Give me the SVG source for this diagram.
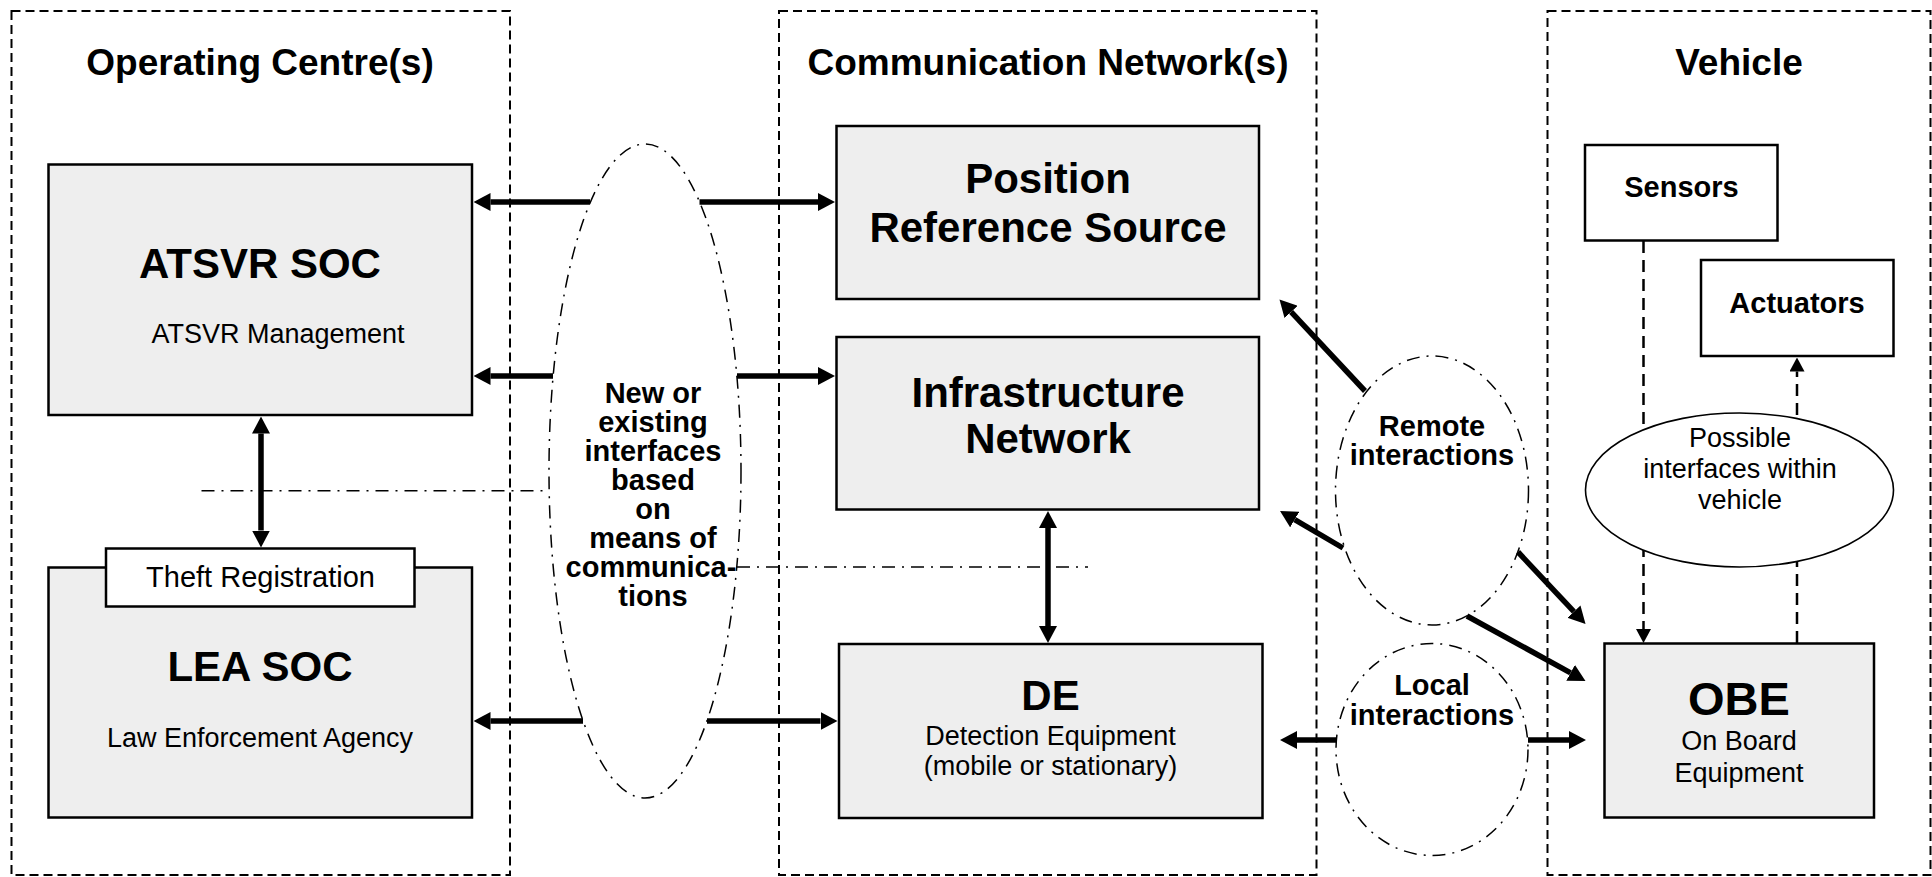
<svg xmlns="http://www.w3.org/2000/svg" width="1932" height="877" viewBox="0 0 1932 877">
  <style>
    .zone { fill: none; stroke: #000; stroke-width: 2; stroke-dasharray: 9 5; }
    .box { fill: #eeeeee; stroke: #000; stroke-width: 2.5; }
    .wbox { fill: #ffffff; stroke: #000; stroke-width: 2.5; }
    .dd { fill: none; stroke: #000; stroke-width: 1.5; stroke-dasharray: 13 7 2 7; }
    .cloud { fill: #ffffff; stroke: #000; stroke-width: 1.5; stroke-dasharray: 13 7 2 7; }
    .solid-ell { fill: #ffffff; stroke: #000; stroke-width: 1.6; }
    .arr { fill: none; stroke: #000; stroke-width: 5.5; marker-end: url(#ah); }
    .arr2 { fill: none; stroke: #000; stroke-width: 5.5; marker-start: url(#ah); marker-end: url(#ah); }
    .darr { fill: none; stroke: #000; stroke-width: 2.5; stroke-dasharray: 12 7; marker-end: url(#ahs); }
    text { font-family: "Liberation Sans", Arial, sans-serif; fill: #000; text-anchor: middle; }
    .h { font-size: 37px; font-weight: bold; }
    .t { font-size: 42px; font-weight: bold; }
    .obe { font-size: 47px; font-weight: bold; }
    .b { font-size: 29px; font-weight: bold; }
    .r { font-size: 27px; }
    .tag { font-size: 29px; }
  </style>
  <defs>
    <marker id="ah" markerUnits="userSpaceOnUse" viewBox="0 0 17 18" markerWidth="17" markerHeight="18" refX="0" refY="9" orient="auto-start-reverse">
      <path d="M0,0 L17,9 L0,18 z" fill="#000"/>
    </marker>
    <marker id="ahs" markerUnits="userSpaceOnUse" viewBox="0 0 14 15" markerWidth="14" markerHeight="15" refX="0" refY="7.5" orient="auto">
      <path d="M0,0 L14,7.5 L0,15 z" fill="#000"/>
    </marker>
  </defs>

  <!-- domain frames -->
  <g id="zones">
    <rect class="zone" x="11.5" y="11" width="498.5" height="864"/>
    <rect class="zone" x="779" y="11" width="537.5" height="864"/>
    <rect class="zone" x="1547.5" y="11" width="383" height="864"/>
    <text class="h" x="260" y="75">Operating Centre(s)</text>
    <text class="h" x="1048" y="75">Communication Network(s)</text>
    <text class="h" x="1739" y="75">Vehicle</text>
  </g>

  <!-- boundary lines between domains -->
  <g id="boundaries">
    <path class="dd" d="M201.5,490.7 H548.5"/>
    <path class="dd" d="M737,567 H1088"/>
  </g>

  <!-- interface clouds -->
  <g id="interfaces-cloud">
    <ellipse class="cloud" cx="645" cy="471" rx="96" ry="327"/>
    <text class="b" x="653" y="403">New or</text>
    <text class="b" x="653" y="432">existing</text>
    <text class="b" x="653" y="461">interfaces</text>
    <text class="b" x="653" y="490">based</text>
    <text class="b" x="653" y="519">on</text>
    <text class="b" x="653" y="548">means of</text>
    <text class="b" x="651" y="577">communica-</text>
    <text class="b" x="653" y="606">tions</text>
  </g>
  <g id="remote-cloud">
    <ellipse class="cloud" cx="1432" cy="490.5" rx="96.5" ry="134.5"/>
    <text class="b" x="1432" y="436">Remote</text>
    <text class="b" x="1432" y="465">interactions</text>
  </g>
  <g id="local-cloud">
    <ellipse class="cloud" cx="1432" cy="749.5" rx="96" ry="106"/>
    <text class="b" x="1432" y="695">Local</text>
    <text class="b" x="1432" y="725">interactions</text>
  </g>

  <!-- connectors -->
  <g id="connectors">
    <path class="arr" d="M590,202 H490.5"/>
    <path class="arr" d="M699.5,202 H818"/>
    <path class="arr" d="M553,376 H490.5"/>
    <path class="arr" d="M737,376 H818"/>
    <path class="arr" d="M583,721 H490.5"/>
    <path class="arr" d="M707,721 H820.5"/>
    <path class="arr2" d="M261,433.5 V530.5"/>
    <path class="arr2" d="M1048,528 V626"/>
    <path class="arr" d="M1365,391 L1291.1,311.9"/>
    <path class="arr" d="M1343,548 L1294.7,519.6"/>
    <path class="arr" d="M1518,552 L1573.9,611.6"/>
    <path class="arr" d="M1467,616 L1570.6,672.8"/>
    <path class="arr" d="M1336,740 H1297"/>
    <path class="arr" d="M1528,740 H1569"/>
    <path class="darr" d="M1643.5,241 V629"/>
    <path class="darr" d="M1797,643 V371.5"/>
  </g>

  <!-- operating centre nodes -->
  <g id="atsvr-soc">
    <rect class="box" x="48.5" y="164.5" width="423.5" height="250.5"/>
    <text class="t" x="260" y="278">ATSVR SOC</text>
    <text class="r" x="278" y="343">ATSVR Management</text>
  </g>
  <g id="lea-soc">
    <rect class="box" x="48.5" y="567.5" width="423.5" height="250"/>
    <text class="t" x="260" y="681">LEA SOC</text>
    <text class="r" x="260" y="747">Law Enforcement Agency</text>
  </g>
  <g id="theft-registration">
    <rect class="wbox" x="106" y="548.5" width="308.5" height="58"/>
    <text class="tag" x="260.5" y="587">Theft Registration</text>
  </g>

  <!-- communication network nodes -->
  <g id="position-reference">
    <rect class="box" x="836.5" y="126" width="422.5" height="173"/>
    <text class="t" x="1048" y="193">Position</text>
    <text class="t" x="1048" y="242">Reference Source</text>
  </g>
  <g id="infrastructure-network">
    <rect class="box" x="836.5" y="337" width="422.5" height="172.5"/>
    <text class="t" x="1048" y="407">Infrastructure</text>
    <text class="t" x="1048" y="453">Network</text>
  </g>
  <g id="detection-equipment">
    <rect class="box" x="839" y="644" width="423.5" height="174"/>
    <text class="t" x="1050.5" y="710">DE</text>
    <text class="r" x="1050.5" y="745">Detection Equipment</text>
    <text class="r" x="1050.5" y="775">(mobile or stationary)</text>
  </g>

  <!-- vehicle nodes -->
  <g id="sensors">
    <rect class="wbox" x="1585" y="145" width="192.5" height="95.5"/>
    <text class="b" x="1681.5" y="197">Sensors</text>
  </g>
  <g id="actuators">
    <rect class="wbox" x="1701" y="260" width="192.5" height="96"/>
    <text class="b" x="1797" y="313">Actuators</text>
  </g>
  <g id="vehicle-interfaces">
    <ellipse class="solid-ell" cx="1739.5" cy="490" rx="154" ry="77"/>
    <text class="r" x="1740" y="447">Possible</text>
    <text class="r" x="1740" y="478">interfaces within</text>
    <text class="r" x="1740" y="509">vehicle</text>
  </g>
  <g id="obe">
    <rect class="box" x="1604.5" y="643.5" width="269.5" height="174"/>
    <text class="obe" x="1739" y="715">OBE</text>
    <text class="r" x="1739" y="750">On Board</text>
    <text class="r" x="1739" y="782">Equipment</text>
  </g>
</svg>
